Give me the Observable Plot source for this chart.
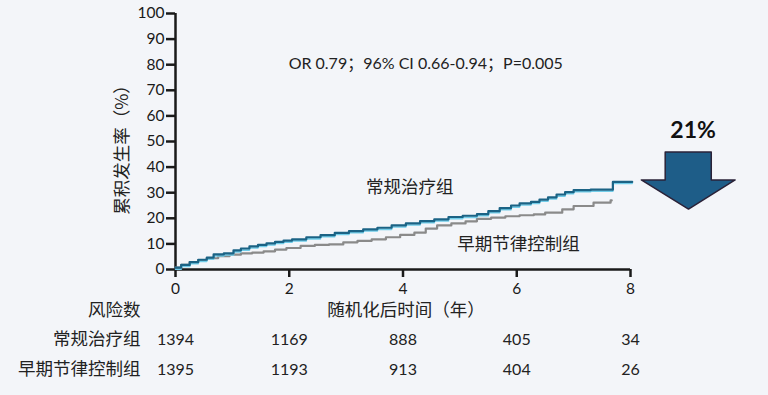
<!DOCTYPE html>
<html>
<head>
<meta charset="utf-8">
<script src="https://cdn.jsdelivr.net/npm/d3@7"></script>
<script src="https://cdn.jsdelivr.net/npm/@observablehq/plot@0.6"></script>
<style>
  html, body { margin: 0; padding: 0; background: #f3f5f9; }
  #chart { width: 768px; height: 395px; overflow: hidden; }
</style>
</head>
<body>
<div id="chart"></div>
<script>
// Conventional care (常规治疗组) cumulative incidence (%)
const convT = [0, 0.1, 0.25, 0.4, 0.55, 0.67, 0.85, 1.02, 1.15, 1.3, 1.45, 1.6, 1.75, 1.9, 2.05, 2.3, 2.55, 2.8, 3.05, 3.3, 3.55, 3.8, 4.05, 4.3, 4.55, 4.8, 5.05, 5.3, 5.5, 5.7, 5.9, 6.05, 6.25, 6.4, 6.55, 6.7, 6.85, 7.0, 7.3, 7.69, 8.03];
const convV = [0.7, 1.8, 2.9, 3.8, 4.6, 5.9, 6.3, 7.5, 8.2, 9.0, 9.6, 10.2, 10.8, 11.3, 11.8, 12.6, 13.4, 14.3, 15.0, 15.7, 16.3, 17.2, 18.0, 18.9, 19.6, 20.5, 21.0, 21.6, 22.8, 24.0, 25.0, 25.8, 26.4, 27.3, 28.2, 29.3, 30.2, 31.0, 31.2, 34.2, 34.2];
// Early rhythm control (早期节律控制组)
const earlyT = [0, 0.1, 0.25, 0.4, 0.55, 0.75, 0.95, 1.15, 1.35, 1.55, 1.75, 1.95, 2.2, 2.45, 2.7, 2.95, 3.2, 3.45, 3.7, 3.95, 4.2, 4.4, 4.6, 4.85, 5.1, 5.3, 5.55, 5.8, 6.05, 6.3, 6.5, 6.8, 7.0, 7.35, 7.65, 7.67];
const earlyV = [0.7, 1.8, 2.9, 3.7, 4.4, 5.2, 5.8, 6.3, 6.6, 7.1, 7.8, 8.4, 9.2, 9.6, 9.8, 10.6, 11.2, 11.8, 12.6, 13.5, 14.4, 16.0, 17.2, 18.0, 18.8, 19.8, 20.3, 20.8, 21.2, 21.5, 22.2, 23.5, 24.8, 26.1, 27.0, 27.0];

// Risk table
const riskTimes = [0, 2, 4, 6, 8];
const riskConv = [1394, 1169, 888, 405, 34];
const riskEarly = [1395, 1193, 913, 404, 26];

const xTicks = [0, 2, 4, 6, 8];
const yTicks = [0, 10, 20, 30, 40, 50, 60, 70, 80, 90, 100];

const seriesNames = ["常规治疗组", "早期节律控制组"];
const statText = "OR 0.79；96% CI 0.66-0.94；P=0.005";
const reduction = "21%";

// Downward arrow outline (in chart units: years, %)
const arrowX = [8.61, 9.42, 9.42, 9.84, 9.02, 8.19, 8.61, 8.61];
const arrowY = [45.9, 45.9, 35.0, 35.0, 23.6, 35.0, 35.0, 45.9];

const conv = convT.map((t, i) => ({t, v: convV[i]}));
const early = earlyT.map((t, i) => ({t, v: earlyV[i]}));
const rConv = riskTimes.map((t, i) => ({t, n: riskConv[i]}));
const rEarly = riskTimes.map((t, i) => ({t, n: riskEarly[i]}));
const arrow = arrowX.map((x, i) => ({x, y: arrowY[i]}));

const latin = "Lato, 'Noto Sans CJK SC', sans-serif";
const cjk = "'Noto Sans CJK SC', Lato, sans-serif";
const cjkSize = 17.5;

const plot = Plot.plot({
  width: 768,
  height: 395,
  marginLeft: 175,
  marginRight: 138,
  marginTop: 13,
  marginBottom: 126,
  style: {fontFamily: latin, fontSize: "15px", background: "#f3f5f9", color: "#1a1a1a"},
  x: {domain: [0, 8]},
  y: {domain: [0, 100]},
  marks: [
    Plot.axisY({ticks: yTicks, tickSize: 9, tickPadding: 2, strokeWidth: 2.5, label: null, fontSize: 15.5}),
    Plot.axisX({ticks: xTicks, tickSize: 8, tickPadding: 5, strokeWidth: 2.5, label: null, fontSize: 15.5}),
    Plot.ruleX([0], {stroke: "#1a1a1a", strokeWidth: 2.5}),
    Plot.ruleY([0], {stroke: "#1a1a1a", strokeWidth: 2.5}),
    Plot.line(early, {x: "t", y: "v", curve: "step-after", stroke: "#8a8a8a", strokeWidth: 2.2}),
    Plot.line(conv, {x: "t", y: "v", curve: "step-after", stroke: "#72cde9", strokeWidth: 1.6, dy: 1.6}),
    Plot.line(conv, {x: "t", y: "v", curve: "step-after", stroke: "#1b6385", strokeWidth: 2.2}),
    Plot.text([seriesNames[0]], {x: 4.12, y: 32, fontFamily: cjk, fontSize: cjkSize, fill: "#222"}),
    Plot.text([seriesNames[1]], {x: 6.03, y: 9.8, fontFamily: cjk, fontSize: cjkSize, fill: "#222"}),
    Plot.text([statText], {x: 4.4, y: 80.3, fontSize: 16, fill: "#222"}),
    Plot.text(["累积发生率（%）"], {frameAnchor: "left", textAnchor: "middle", lineAnchor: "middle", rotate: -90, dx: -53, dy: 4, fontFamily: cjk, fontSize: cjkSize, fill: "#222"}),
    Plot.line(arrow, {x: "x", y: "y", fill: "#1e5d88", stroke: "#2a2238", strokeWidth: 1.5}),
    Plot.text([reduction], {x: 9.1, y: 54.3, fontSize: 23, fontWeight: "bold", fill: "#111"}),
    Plot.text(["随机化后时间（年）"], {frameAnchor: "bottom", lineAnchor: "middle", dy: 41, dx: 3, fontFamily: cjk, fontSize: cjkSize, fill: "#222"}),
    Plot.text(["风险数"], {frameAnchor: "bottom-left", lineAnchor: "middle", dx: -35, dy: 41, textAnchor: "end", fontFamily: cjk, fontSize: cjkSize, fill: "#222"}),
    Plot.text([seriesNames[0]], {frameAnchor: "bottom-left", lineAnchor: "middle", dx: -35, dy: 70, textAnchor: "end", fontFamily: cjk, fontSize: cjkSize, fill: "#222"}),
    Plot.text([seriesNames[1]], {frameAnchor: "bottom-left", lineAnchor: "middle", dx: -35, dy: 100, textAnchor: "end", fontFamily: cjk, fontSize: cjkSize, fill: "#222"}),
    Plot.text(rConv, {x: "t", text: d => String(d.n), frameAnchor: "bottom", lineAnchor: "middle", dy: 70, fontSize: 16, fill: "#222"}),
    Plot.text(rEarly, {x: "t", text: d => String(d.n), frameAnchor: "bottom", lineAnchor: "middle", dy: 100, fontSize: 16, fill: "#222"})
  ]
});
document.getElementById("chart").appendChild(plot);
</script>
</body>
</html>
